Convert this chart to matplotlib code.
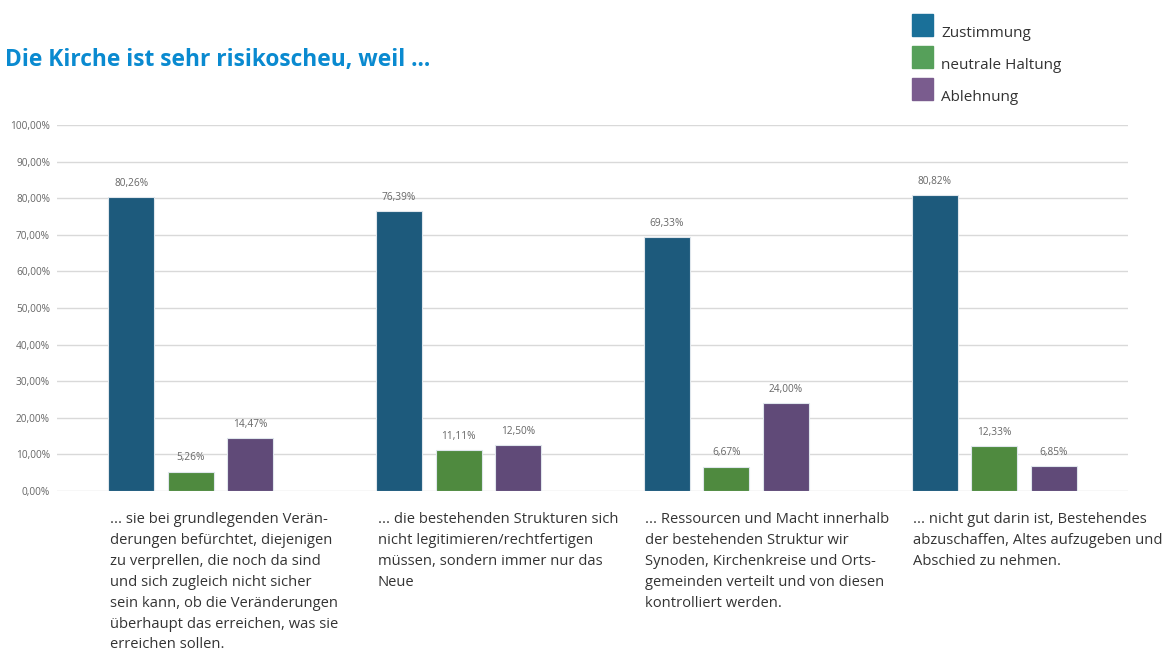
import numpy as np
import matplotlib.pyplot as plt
from matplotlib.patches import Rectangle

plt.rcParams['font.family'] = ['Open Sans', 'DejaVu Sans']

series = ['Zustimmung', 'neutrale Haltung', 'Ablehnung']
zustimmung = [80.26, 76.39, 69.33, 80.82]
neutral = [5.26, 11.11, 6.67, 12.33]
ablehnung = [14.47, 12.50, 24.00, 6.85]
categories = [
    '... sie bei grundlegenden Verän-\nderungen befürchtet, diejenigen\nzu verprellen, die noch da sind\nund sich zugleich nicht sicher\nsein kann, ob die Veränderungen\nüberhaupt das erreichen, was sie\nerreichen sollen.',
    '... die bestehenden Strukturen sich\nnicht legitimieren/rechtfertigen\nmüssen, sondern immer nur das\nNeue',
    '... Ressourcen und Macht innerhalb\nder bestehenden Struktur wir\nSynoden, Kirchenkreise und Orts-\ngemeinden verteilt und von diesen\nkontrolliert werden.',
    '... nicht gut darin ist, Bestehendes\nabzuschaffen, Altes aufzugeben und\nAbschied zu nehmen.',
]
yticks = np.arange(0, 101, 10)

bar_colors = ['#1d5a7c', '#4f8a3f', '#604a78']
legend_colors = ['#1a7099', '#56a05a', '#7a5c8e']

W, H = 1172, 653
fig = plt.figure(figsize=(W / 100, H / 100), dpi=100)
ax = fig.add_axes([57 / W, (H - 491) / H, (1128 - 57) / W, (491 - 125) / H])

x = np.arange(len(categories))
width = 0.172
step = 0.222
for k, vals in enumerate([zustimmung, neutral, ablehnung]):
    pos = x + (k - 1) * step
    bars = ax.bar(pos, vals, width, color=bar_colors[k], edgecolor='#dfe6ec',
                  linewidth=0.8, zorder=2)
    for b, v in zip(bars, vals):
        ax.annotate(f'{v:.2f}%'.replace('.', ','), (b.get_x() + b.get_width() / 2, v),
                    xytext=(0, 6), textcoords='offset points', ha='center', va='bottom',
                    fontsize=7.3, color='#666666')

ax.set_xlim(-0.5, len(categories) - 0.5)
ax.set_ylim(0, 100)
ax.set_yticks(yticks)
ax.set_yticklabels([f'{t:.2f}%'.replace('.', ',') for t in yticks], fontsize=7.3, color='#666666')
ax.tick_params(axis='y', length=0, pad=5)
ax.set_xticks([])
ax.grid(axis='y', color='#d9d9d9', linewidth=1, zorder=0)
for s in ax.spines.values():
    s.set_visible(False)

# category texts below the groups, left aligned to the first bar
for i, txt in enumerate(categories):
    ax.annotate(txt, (x[i] - step - width / 2, 0), xycoords=('data', 'axes fraction'),
                xytext=(1, -15), textcoords='offset points', ha='left', va='top',
                fontsize=10.6, color='#333333', linespacing=1.54)

fig.text(5 / W, 1 - 66 / H, 'Die Kirche ist sehr risikoscheu, weil ...', fontsize=16.4,
         fontweight='bold', color='#0a8ad0', ha='left', va='baseline')

# legend in the top right
for k, name in enumerate(series):
    top = 14 + k * 32
    fig.patches.append(Rectangle((912 / W, 1 - (top + 22) / H), 21 / W, 22 / H,
                                 transform=fig.transFigure, color=legend_colors[k]))
    fig.text(941 / W, 1 - (top + 23) / H, name, fontsize=11, color='#333333',
             ha='left', va='baseline')

fig.savefig('out.png', dpi=100, facecolor='white')
